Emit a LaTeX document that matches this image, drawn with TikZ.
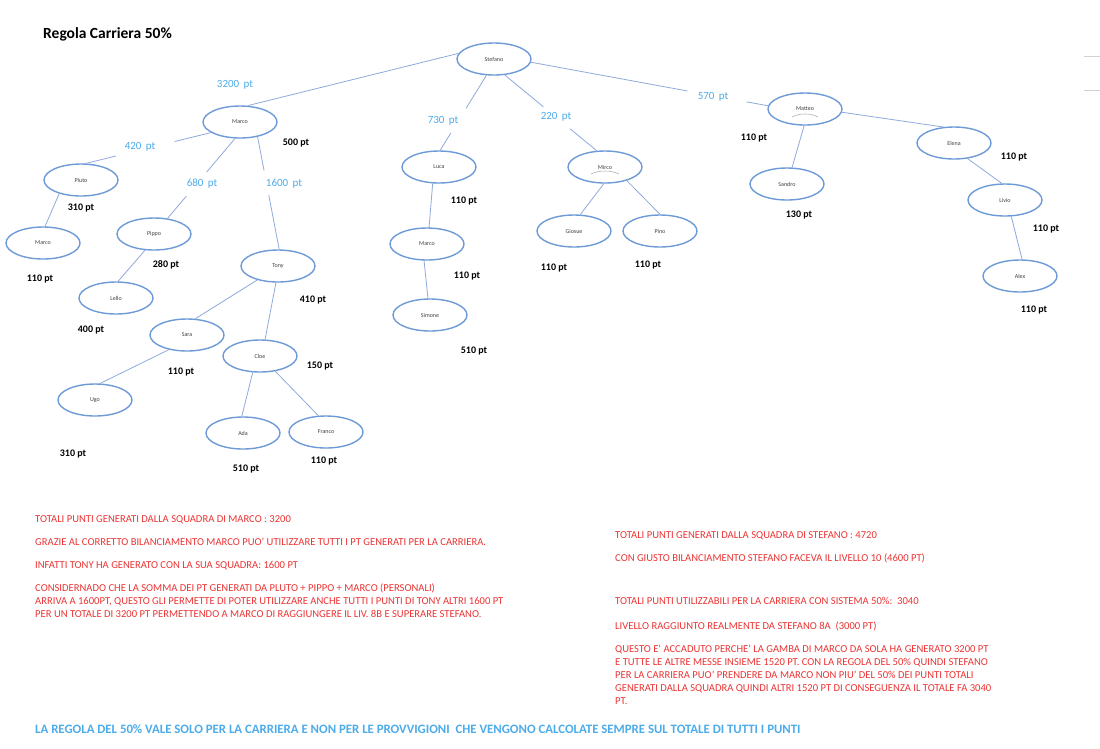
\documentclass[tikz,border=0pt]{standalone}
\usepackage{fontspec}
\setmainfont{Carlito}
\usetikzlibrary{shapes.geometric,calc}
\definecolor{ellc}{RGB}{110,155,215}
\definecolor{linec}{RGB}{143,170,220}
\definecolor{lblue}{RGB}{77,172,234}
\definecolor{redt}{RGB}{236,52,52}
\definecolor{graytxt}{RGB}{64,64,64}
\newcommand\gapline[4]{\draw[conn] (#1) -- ($(#1)!#3!(#2)$) ($(#1)!#4!(#2)$) -- (#2);}
\begin{document}
\begin{tikzpicture}[x=1pt,y=-1pt,
 person/.style={ellipse,draw=ellc,line width=1.4pt,minimum width=74pt,minimum height=32pt,inner sep=0pt,font=\fontsize{6}{7}\selectfont,text=graytxt},
 conn/.style={draw=linec,line width=0.8pt},
 ptlbl/.style={font=\fontsize{11}{13}\selectfont,text=lblue,inner sep=0pt},
 score/.style={font=\bfseries\fontsize{10}{12}\selectfont,inner sep=0pt},
 note/.style={font=\fontsize{10.6}{13}\selectfont,text=redt,anchor=west,align=left,inner sep=0pt},
 smallarc/.style={draw=gray!60,line width=0.6pt},
]
\useasboundingbox[fill=white] (0,0) rectangle (1100,748);

\node[anchor=west,font=\bfseries\fontsize{15.5}{18}\selectfont,inner sep=0pt] (title) at (43,34) {Regola Carriera 50\%};

% nodes
\node[person] (stef) at (494,59) {Stefano};
\node[person] (marcoA) at (240,122) {Marco};
\node[person] (pluto) at (81,180) {Pluto};
\node[person] (marcoL) at (43,243) {Marco};
\node[person] (pippo) at (154,234) {Pippo};
\node[person] (lello) at (116,298) {Lello};
\node[person] (tony) at (278,266) {Tony};
\node[person] (sara) at (187,335) {Sara};
\node[person] (cloe) at (260,356) {Cloe};
\node[person] (ugo) at (95,400) {Ugo};
\node[person] (ada) at (243,433) {Ada};
\node[person] (franco) at (326,432) {Franco};
\node[person] (luca) at (439,167) {Luca};
\node[person] (mirco) at (605,167) {Mirco};
\node[person] (marcoM) at (427,244) {Marco};
\node[person] (simone) at (430,315) {Simone};
\node[person] (giosue) at (574,231) {Giosue};
\node[person] (pino) at (660,231) {Pino};
\node[person] (matteo) at (805,109) {Matteo};
\node[person] (elena) at (954,143) {Elena};
\node[person] (sandro) at (787,184) {Sandro};
\node[person] (livio) at (1005,200) {Livio};
\node[person] (alex) at (1020,276) {Alex};

% small arcs
\draw[smallarc] ($(mirco.center)+(-14,7)$) .. controls ($(mirco.center)+(-6,3)$) and ($(mirco.center)+(6,3)$) .. ($(mirco.center)+(14,7)$);
\draw[smallarc] ($(matteo.center)+(-13,8)$) .. controls ($(matteo.center)+(-6,4)$) and ($(matteo.center)+(6,4)$) .. ($(matteo.center)+(13,8)$);

% connectors
\draw[conn] (stef.171) -- (marcoA.65);
\gapline{marcoA.200}{pluto.74}{0.29}{0.76}
\gapline{marcoA.253}{pippo.49}{0.42}{0.72}
\gapline{marcoA.320}{tony.86}{0.30}{0.52}
\draw[conn] (pluto.212) -- (marcoL.83);
\draw[conn] (pippo.241) -- (lello.83);
\draw[conn] (tony.214) -- (sara.63);
\draw[conn] (tony.263) -- (cloe.73);
\draw[conn] (sara.219) -- (ugo.73);
\draw[conn] (cloe.246) -- (ada.94);
\draw[conn] (cloe.315) -- (franco.115);
\gapline{stef.245}{luca.86}{0.44}{0.77}
\gapline{stef.304}{mirco.117}{0.42}{0.71}
\gapline{stef.355}{matteo.175}{0.66}{0.91}
\draw[conn] (luca.249) -- (marcoM.83);
\draw[conn] (marcoM.260) -- (simone.97);
\draw[conn] (mirco.266) -- (giosue.69);
\draw[conn] (mirco.328) -- (pino.90);
\draw[conn] (matteo.267) -- (sandro.73);
\draw[conn] (matteo.355) -- (elena.124);
\draw[conn] (elena.311) -- (livio.101);
\draw[conn] (livio.291) -- (alex.83);

% blue point labels
\node[ptlbl] (l3200) at (235,85) {3200\, pt};
\node[ptlbl] (l420) at (140,147) {420\, pt};
\node[ptlbl] (l680) at (202,184) {680\, pt};
\node[ptlbl] (l1600) at (284,184) {1600\, pt};
\node[ptlbl] (l730) at (443,121) {730\, pt};
\node[ptlbl] (l220) at (556,117) {220\, pt};
\node[ptlbl] (l570) at (713,97) {570\, pt};

% black scores
\node[score] (s1) at (296,143) {500 pt};
\node[score] (s2) at (81,208) {310 pt};
\node[score] (s3) at (40,279) {110 pt};
\node[score] (s4) at (166,265) {280 pt};
\node[score] (s5) at (91,330) {400 pt};
\node[score] (s6) at (313,300) {410 pt};
\node[score] (s7) at (181,372) {110 pt};
\node[score] (s8) at (320,366) {150 pt};
\node[score] (s9) at (73,454) {310 pt};
\node[score] (s10) at (246,469) {510 pt};
\node[score] (s11) at (324,461) {110 pt};
\node[score] (s12) at (464,201) {110 pt};
\node[score] (s13) at (467,276) {110 pt};
\node[score] (s14) at (474,351) {510 pt};
\node[score] (s15) at (554,268) {110 pt};
\node[score] (s16) at (648,265) {110 pt};
\node[score] (s17) at (754,138) {110 pt};
\node[score] (s18) at (1014,157) {110 pt};
\node[score] (s19) at (799,215) {130 pt};
\node[score] (s20) at (1046,229) {110 pt};
\node[score] (s21) at (1034,310) {110 pt};

% top-right marks
\draw[gray!35,line width=1pt] (1084,56) -- (1100,56);
\draw[gray!35,line width=1pt] (1084,90) -- (1100,90);

% left notes
\node[note] (n1) at (35,520) {TOTALI PUNTI GENERATI DALLA SQUADRA DI MARCO : 3200};
\node[note] (n2) at (35,542) {GRAZIE AL CORRETTO BILANCIAMENTO MARCO PUO' UTILIZZARE TUTTI I PT GENERATI PER LA CARRIERA.};
\node[note] (n3) at (35,566) {INFATTI TONY HA GENERATO CON LA SUA SQUADRA: 1600 PT};
\node[note] (n4) at (35,601) {CONSIDERNADO CHE LA SOMMA DEI PT GENERATI DA PLUTO + PIPPO + MARCO (PERSONALI)\\ARRIVA A 1600PT, QUESTO GLI PERMETTE DI POTER UTILIZZARE ANCHE TUTTI I PUNTI DI TONY ALTRI 1600 PT\\PER UN TOTALE DI 3200 PT PERMETTENDO A MARCO DI RAGGIUNGERE IL LIV. 8B E SUPERARE STEFANO.};

% right notes
\node[note] (r1) at (615,536) {TOTALI PUNTI GENERATI DALLA SQUADRA DI STEFANO : 4720};
\node[note] (r2) at (615,558) {CON GIUSTO BILANCIAMENTO STEFANO FACEVA IL LIVELLO 10 (4600 PT)};
\node[note] (r3) at (615,601) {TOTALI PUNTI UTILIZZABILI PER LA CARRIERA CON SISTEMA 50\%:\ \ 3040};
\node[note] (r4) at (615,626) {LIVELLO RAGGIUNTO REALMENTE DA STEFANO 8A\ \ (3000 PT)};
\node[note] (r5) at (615,675) {QUESTO E’ ACCADUTO PERCHE’ LA GAMBA DI MARCO DA SOLA HA GENERATO 3200 PT\\E TUTTE LE ALTRE MESSE INSIEME 1520 PT. CON LA REGOLA DEL 50\% QUINDI STEFANO\\PER LA CARRIERA PUO’ PRENDERE DA MARCO NON PIU’ DEL 50\% DEI PUNTI TOTALI\\GENERATI DALLA SQUADRA QUINDI ALTRI 1520 PT DI CONSEGUENZA IL TOTALE FA 3040\\PT.};

% bottom
\node[note,text=lblue,font=\bfseries\fontsize{12.8}{15}\selectfont] (bottom) at (35,729) {LA REGOLA DEL 50\% VALE SOLO PER LA CARRIERA E NON PER LE PROVVIGIONI\ \ CHE VENGONO CALCOLATE SEMPRE SUL TOTALE DI TUTTI I PUNTI};
\end{tikzpicture}
\end{document}
